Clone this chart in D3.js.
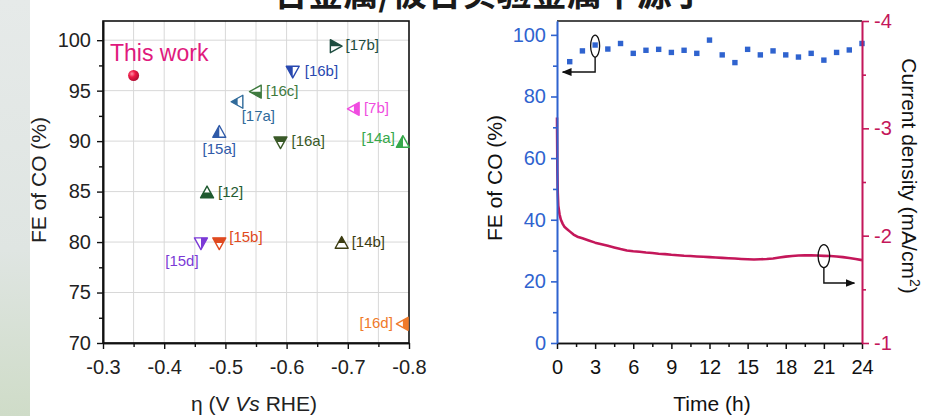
<!DOCTYPE html>
<html><head><meta charset="utf-8">
<script src="https://cdn.jsdelivr.net/npm/d3@7/dist/d3.min.js"></script>
<style>
html,body{margin:0;padding:0;background:#fff;}
svg{display:block;font-family:"Liberation Sans",Arial,sans-serif;}
</style></head>
<body>
<svg id="chart" width="938" height="416"></svg>
<script>
// ---------- DATA ----------
const titleText = "合金属/被合实验金属中源于";
// left panel: overpotential vs FE
const refLabels = ["[17b]","[16b]","[16c]","[17a]","[15a]","[7b]","[16a]","[14a]","[12]","[15d]","[15b]","[14b]","[16d]"];
const refEta    = [-0.68,-0.61,-0.55,-0.52,-0.49,-0.71,-0.59,-0.79,-0.47,-0.46,-0.49,-0.69,-0.79];
const refFE     = [99.5, 97.0, 95.0, 94.0, 91.0, 93.3, 90.0, 90.0, 85.0, 80.0, 80.0, 80.0, 72.0];
const thisWork  = {label:"This work", eta:-0.35, fe:96.5};
const etaTicks  = [-0.3,-0.4,-0.5,-0.6,-0.7,-0.8];
const etaTickLabels = ["-0.3","-0.4","-0.5","-0.6","-0.7","-0.8"];
const feTicksL  = [70,75,80,85,90,95,100];
// right panel: stability
const feTime    = [1,2,3,4,5,6,7,8,9,10,11,12,13,14,15,16,17,18,19,20,21,22,23,24];
const feValues  = [91.3,94.8,96.7,95.4,97.2,94.0,95.0,95.3,94.3,95.0,94.0,98.3,93.5,91.0,95.3,93.5,94.8,93.5,92.8,94.0,91.8,94.3,95.1,97.2];
const cdTime    = [0,0.03,0.06,0.1,0.2,0.3,0.45,0.6,0.8,1.0,1.3,1.6,2.0,2.5,3.0,3.5,4.0,4.5,5.0,5.5,6.0,6.5,7.0,7.5,8.0,8.5,9.0,9.5,10,10.5,11,11.5,12,12.5,13,13.5,14,14.5,15,15.5,16,16.5,17,17.5,18,18.5,19,19.5,20,20.5,21,21.5,22,22.5,23,23.5,24];
const cdValues  = [-3.1,-2.6,-2.4,-2.28,-2.2,-2.15,-2.11,-2.08,-2.06,-2.04,-2.01,-1.99,-1.975,-1.955,-1.935,-1.92,-1.905,-1.89,-1.875,-1.862,-1.855,-1.85,-1.843,-1.838,-1.832,-1.828,-1.822,-1.818,-1.813,-1.81,-1.806,-1.803,-1.8,-1.797,-1.793,-1.79,-1.787,-1.783,-1.78,-1.778,-1.78,-1.783,-1.788,-1.796,-1.805,-1.81,-1.815,-1.817,-1.816,-1.815,-1.812,-1.81,-1.806,-1.8,-1.792,-1.782,-1.772];
const timeTicks = [0,3,6,9,12,15,18,21,24];
const feTicksR  = [0,20,40,60,80,100];
const cdTicks   = [-4,-3,-2,-1];
const cdTickLabels = ["-4","-3","-2","-1"];

// ---------- STYLE / LAYOUT ----------
const refStyle = {
 "[17b]":{dir:"right",half:"top",   color:"#1e4d40", dx:10, dy:0,  anchor:"start"},
 "[16b]":{dir:"down", half:"left",  color:"#2848b0", dx:12, dy:0,  anchor:"start"},
 "[16c]":{dir:"left", half:"bottom",color:"#3e7a3e", dx:10, dy:0,  anchor:"start"},
 "[17a]":{dir:"left", half:"left",  color:"#2f6a9a", dx:4,  dy:15, anchor:"start"},
 "[15a]":{dir:"up",   half:"left",  color:"#2f5aa8", dx:0,  dy:18, anchor:"middle"},
 "[7b]": {dir:"left", half:"right", color:"#f04ce0", dx:10, dy:0,  anchor:"start"},
 "[16a]":{dir:"down", half:"top",   color:"#3a5a28", dx:11, dy:0,  anchor:"start"},
 "[14a]":{dir:"up",   half:"left",  color:"#36a84a", dx:-8, dy:-3, anchor:"end"},
 "[12]": {dir:"up",   half:"bottom",color:"#1f5a30", dx:11, dy:0,  anchor:"start"},
 "[15d]":{dir:"down", half:"right", color:"#7b3ad6", dx:-19,dy:19, anchor:"middle"},
 "[15b]":{dir:"down", half:"top",   color:"#e04a20", dx:10, dy:-5, anchor:"start"},
 "[14b]":{dir:"up",   half:"top",   color:"#3d3d12", dx:10, dy:0,  anchor:"start"},
 "[16d]":{dir:"left", half:"right", color:"#f07a2a", dx:-10,dy:0,  anchor:"end"}
};
const BLUE="#2f63cf", CRIM="#c4175a";

const svg = d3.select("#chart");
const defs = svg.append("defs");

// background
const grad = defs.append("linearGradient").attr("id","bg").attr("x1",0).attr("y1",0).attr("x2",0).attr("y2",1);
grad.append("stop").attr("offset","0%").attr("stop-color","#e6eae9");
grad.append("stop").attr("offset","60%").attr("stop-color","#dfe5e2");
grad.append("stop").attr("offset","100%").attr("stop-color","#cfdcc8");
svg.append("rect").attr("x",0).attr("y",0).attr("width",30).attr("height",416).attr("fill","url(#bg)");

// title (cropped at the top, as in the reference)
svg.append("text").attr("x",490).attr("y",6).attr("text-anchor","middle")
  .attr("font-family","'Noto Sans CJK SC',sans-serif").attr("font-size",35).attr("font-weight","bold")
  .attr("fill","#1a1a1a").text(titleText);

// ================= LEFT PANEL =================
const xL = d3.scaleLinear().domain([-0.3,-0.8]).range([103,409]);
const yL = d3.scaleLinear().domain([70,101.9]).range([343,21]);
const L = svg.append("g");

// grid
const gx = d3.range(-0.35,-0.8,-0.05);
L.append("g").selectAll("line").data(gx).join("line")
  .attr("x1",d=>xL(d)).attr("x2",d=>xL(d)).attr("y1",21).attr("y2",343)
  .attr("stroke","#d8d8d8").attr("stroke-width",1);
L.append("g").selectAll("line").data([75,80,85,90,95,100]).join("line")
  .attr("x1",103).attr("x2",409).attr("y1",d=>yL(d)).attr("y2",d=>yL(d))
  .attr("stroke","#d8d8d8").attr("stroke-width",1);

// frame
L.append("rect").attr("x",103).attr("y",21).attr("width",306).attr("height",322)
  .attr("fill","none").attr("stroke","#111").attr("stroke-width",1.6);

// axes
L.append("g").attr("transform","translate(0,343)")
  .call(d3.axisBottom(xL).tickValues(etaTicks).tickFormat((d,i)=>etaTickLabels[i]).tickSize(6).tickSizeOuter(0).tickPadding(11));
L.append("g").attr("transform","translate(0,343)")
  .call(d3.axisBottom(xL).tickValues(d3.range(-0.35,-0.8,-0.1)).tickFormat("").tickSize(4).tickSizeOuter(0));
L.append("g").attr("transform","translate(103,0)")
  .call(d3.axisLeft(yL).tickValues(feTicksL).tickSize(6).tickSizeOuter(0).tickPadding(6));
L.append("g").attr("transform","translate(103,0)")
  .call(d3.axisLeft(yL).tickValues(d3.range(72.5,100,5)).tickFormat("").tickSize(4).tickSizeOuter(0));
L.selectAll(".domain").attr("stroke","#111").attr("stroke-width",1.6);
L.selectAll(".tick line").attr("stroke","#111").attr("stroke-width",1.4);
L.selectAll(".tick text").attr("font-size",20).attr("fill","#222").attr("font-family","'Liberation Sans',Arial,sans-serif");

// labels
L.append("text").attr("transform","translate(46,180) rotate(-90)").attr("text-anchor","middle")
  .attr("font-size",21).attr("fill","#222").text("FE of CO (%)");
const xt = L.append("text").attr("x",254).attr("y",411).attr("text-anchor","middle").attr("font-size",21).attr("fill","#222");
xt.append("tspan").text("η (V ");
xt.append("tspan").attr("font-style","italic").text("Vs");
xt.append("tspan").text(" RHE)");

// this work
L.append("text").attr("x",110).attr("y",61).attr("font-size",23).attr("fill","#e0197d").text(thisWork.label);
const cg = defs.append("radialGradient").attr("id","ball").attr("cx","35%").attr("cy","35%").attr("r","65%");
cg.append("stop").attr("offset","0%").attr("stop-color","#ff8fa6");
cg.append("stop").attr("offset","45%").attr("stop-color","#ee1845");
cg.append("stop").attr("offset","100%").attr("stop-color","#b30d35");
L.append("circle").attr("cx",xL(thisWork.eta)).attr("cy",yL(thisWork.fe)).attr("r",5.5).attr("fill","url(#ball)");

// markers
const s = 6.5;
const triPath = `M0,${-s} L${s},${s*0.8} L${-s},${s*0.8} Z`;
const rot = {up:0,right:90,down:180,left:270};
const halfRect = {top:[-10,-10,20,10], bottom:[-10,0,20,10], left:[-10,-10,10,20], right:[0,-10,10,20]};
refLabels.forEach((lab,i)=>{
  const st = refStyle[lab];
  const cx = xL(refEta[i]), cy = yL(refFE[i]);
  const g = L.append("g").attr("transform",`translate(${cx},${cy+1})`);
  const cid = "clip"+i;
  const r = halfRect[st.half];
  defs.append("clipPath").attr("id",cid).append("rect").attr("x",r[0]).attr("y",r[1]).attr("width",r[2]).attr("height",r[3]);
  g.append("path").attr("d",triPath).attr("transform",`rotate(${rot[st.dir]})`).attr("fill","#fff");
  g.append("g").attr("clip-path",`url(#${cid})`).append("path").attr("d",triPath).attr("transform",`rotate(${rot[st.dir]})`).attr("fill",st.color);
  g.append("path").attr("d",triPath).attr("transform",`rotate(${rot[st.dir]})`).attr("fill","none").attr("stroke",st.color).attr("stroke-width",1.4).attr("stroke-linejoin","round");
  L.append("text").attr("x",cx+st.dx).attr("y",cy+st.dy).attr("dy","0.35em").attr("text-anchor",st.anchor)
    .attr("font-size",15).attr("fill",st.color).text(lab);
});

// ================= RIGHT PANEL =================
const xR = d3.scaleLinear().domain([0,24]).range([557,862]);
const yR = d3.scaleLinear().domain([0,104.5]).range([343,21]);
const yC = d3.scaleLinear().domain([-1,-4]).range([343,21]);
const R = svg.append("g");

// top frame line
R.append("line").attr("x1",557).attr("x2",862).attr("y1",21).attr("y2",21).attr("stroke","#111").attr("stroke-width",1.6);

// current density line
R.append("path").datum(cdTime.map((t,i)=>[t,cdValues[i]]))
  .attr("d",d3.line().x(d=>xR(d[0])).y(d=>yC(d[1])))
  .attr("fill","none").attr("stroke",CRIM).attr("stroke-width",2.6).attr("stroke-linejoin","round");

// FE squares
R.append("g").selectAll("rect").data(feTime.map((t,i)=>[t,feValues[i]])).join("rect")
  .attr("x",d=>xR(d[0])-2.7).attr("y",d=>yR(d[1])-2.7).attr("width",5.4).attr("height",5.4).attr("fill",BLUE);

// axes
const bx = R.append("g").attr("transform","translate(0,343)")
  .call(d3.axisBottom(xR).tickValues(timeTicks).tickSize(6).tickSizeOuter(0).tickPadding(11));
const bxm = R.append("g").attr("transform","translate(0,343)")
  .call(d3.axisBottom(xR).tickValues(d3.range(1.5,24,3)).tickFormat("").tickSize(4).tickSizeOuter(0));
[bx,bxm].forEach(a=>{a.selectAll(".domain,.tick line").attr("stroke","#111").attr("stroke-width",1.5);});
bx.selectAll(".tick text").attr("font-size",20).attr("fill","#111");

const ly = R.append("g").attr("transform","translate(557,0)")
  .call(d3.axisLeft(yR).tickValues(feTicksR).tickSize(6).tickSizeOuter(0).tickPadding(5));
const lym = R.append("g").attr("transform","translate(557,0)")
  .call(d3.axisLeft(yR).tickValues([10,30,50,70,90]).tickFormat("").tickSize(4).tickSizeOuter(0));
[ly,lym].forEach(a=>{a.selectAll(".domain,.tick line").attr("stroke",BLUE).attr("stroke-width",1.6);});
ly.selectAll(".tick text").attr("font-size",20).attr("fill",BLUE);

const ry = R.append("g").attr("transform","translate(862,0)")
  .call(d3.axisRight(yC).tickValues(cdTicks).tickFormat((d,i)=>cdTickLabels[i]).tickSize(7).tickSizeOuter(0).tickPadding(5));
const rym = R.append("g").attr("transform","translate(862,0)")
  .call(d3.axisRight(yC).tickValues([-3.5,-2.5,-1.5]).tickFormat("").tickSize(4).tickSizeOuter(0));
[ry,rym].forEach(a=>{a.selectAll(".domain,.tick line").attr("stroke",CRIM).attr("stroke-width",1.6);});
ry.selectAll(".tick text").attr("font-size",20).attr("fill",CRIM);
R.selectAll(".tick text").attr("font-family","'Liberation Sans',Arial,sans-serif");

// titles
R.append("text").attr("transform","translate(502,178) rotate(-90)").attr("text-anchor","middle")
  .attr("font-size",21).attr("fill","#111").text("FE of CO (%)");
R.append("text").attr("x",712).attr("y",411).attr("text-anchor","middle").attr("font-size",21).attr("fill","#111").text("Time (h)");
const ct = R.append("text").attr("transform","translate(902,176) rotate(90)").attr("text-anchor","middle")
  .attr("font-size",21).attr("fill","#111");
ct.append("tspan").text("Current density (mA/cm");
ct.append("tspan").attr("font-size",14).attr("dy",-8).text("2");
ct.append("tspan").attr("dy",8).text(")");

// annotations
defs.append("marker").attr("id","arr").attr("viewBox","0 0 10 10").attr("refX",9).attr("refY",5)
  .attr("markerWidth",7).attr("markerHeight",7).attr("orient","auto")
  .append("path").attr("d","M0,1 L10,5 L0,9 Z").attr("fill","#111");
const a1x = xR(3), a1y = yR(feValues[2]);
R.append("ellipse").attr("cx",a1x).attr("cy",a1y+1).attr("rx",4.5).attr("ry",11).attr("fill","none").attr("stroke","#111").attr("stroke-width",1.3);
R.append("path").attr("d",`M${a1x},${a1y+12} L${a1x},${a1y+27} L${xR(0.45)},${a1y+27}`)
  .attr("fill","none").attr("stroke","#111").attr("stroke-width",1.4).attr("marker-end","url(#arr)");
const a2x = xR(21), a2y = yC(-1.81);
R.append("ellipse").attr("cx",a2x).attr("cy",a2y).attr("rx",5.8).attr("ry",11.5).attr("fill","none").attr("stroke","#111").attr("stroke-width",1.3);
R.append("path").attr("d",`M${a2x},${a2y+11.5} L${a2x},${a2y+27} L${xR(23.4)},${a2y+27}`)
  .attr("fill","none").attr("stroke","#111").attr("stroke-width",1.4).attr("marker-end","url(#arr)");
</script>
</body></html>
